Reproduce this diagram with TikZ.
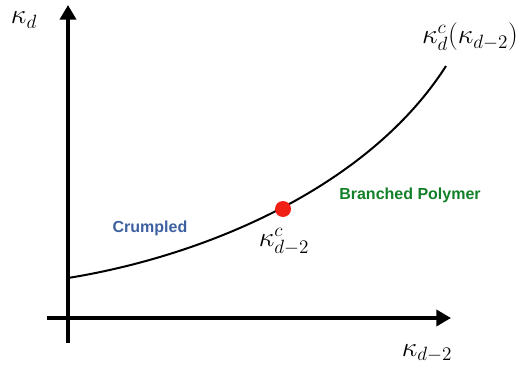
\documentclass[tikz,border=0pt]{standalone}
\usepackage{fontspec}
\newfontfamily\labelfont{Liberation Sans}
\usetikzlibrary{arrows.meta}
\definecolor{crumpledblue}{RGB}{60,96,160}
\definecolor{polymergreen}{RGB}{18,128,40}
\definecolor{dotred}{RGB}{240,32,20}
\begin{document}
\begin{tikzpicture}[x=0.75pt,y=0.75pt,
  axis/.style={line width=3pt,-{Triangle[length=11pt,width=12pt]}},
  mathlabel/.style={font=\fontsize{21}{24}\selectfont, inner sep=0pt},
  phase/.style={font=\labelfont\bfseries\fontsize{12}{14}\selectfont, inner sep=0pt}]
\useasboundingbox (0,0) rectangle (520,375);
% axes
\coordinate (ybot) at (68,32);
\coordinate (ytop) at (68,370);
\coordinate (xleft) at (47,57);
\coordinate (xright) at (451,57);
\draw[axis] (ybot) -- (ytop);
\draw[axis] (xleft) -- (xright);
% critical line
\coordinate (cstart) at (68,97);
\coordinate (cend) at (446,309);
\draw[line width=1.5pt] (cstart) .. controls (210,120) and (370,190) .. (cend);
\node[circle,fill=dotred,inner sep=0pt,minimum size=12pt] (crit) at (283,166) {};
% labels
\node[mathlabel] (kd) at (24,355) {$\kappa_d$};
\node[mathlabel] (kdc) at (470,338) {$\kappa_d^c(\kappa_{d-2})$};
\node[mathlabel] (kcrit) at (284,133) {$\kappa_{d-2}^c$};
\node[mathlabel] (kdm2) at (427,22) {$\kappa_{d-2}$};
\node[phase,text=crumpledblue] (crumpled) at (150,147) {Crumpled};
\node[phase,text=polymergreen] (branched) at (410,180) {Branched Polymer};
\end{tikzpicture}
\end{document}
